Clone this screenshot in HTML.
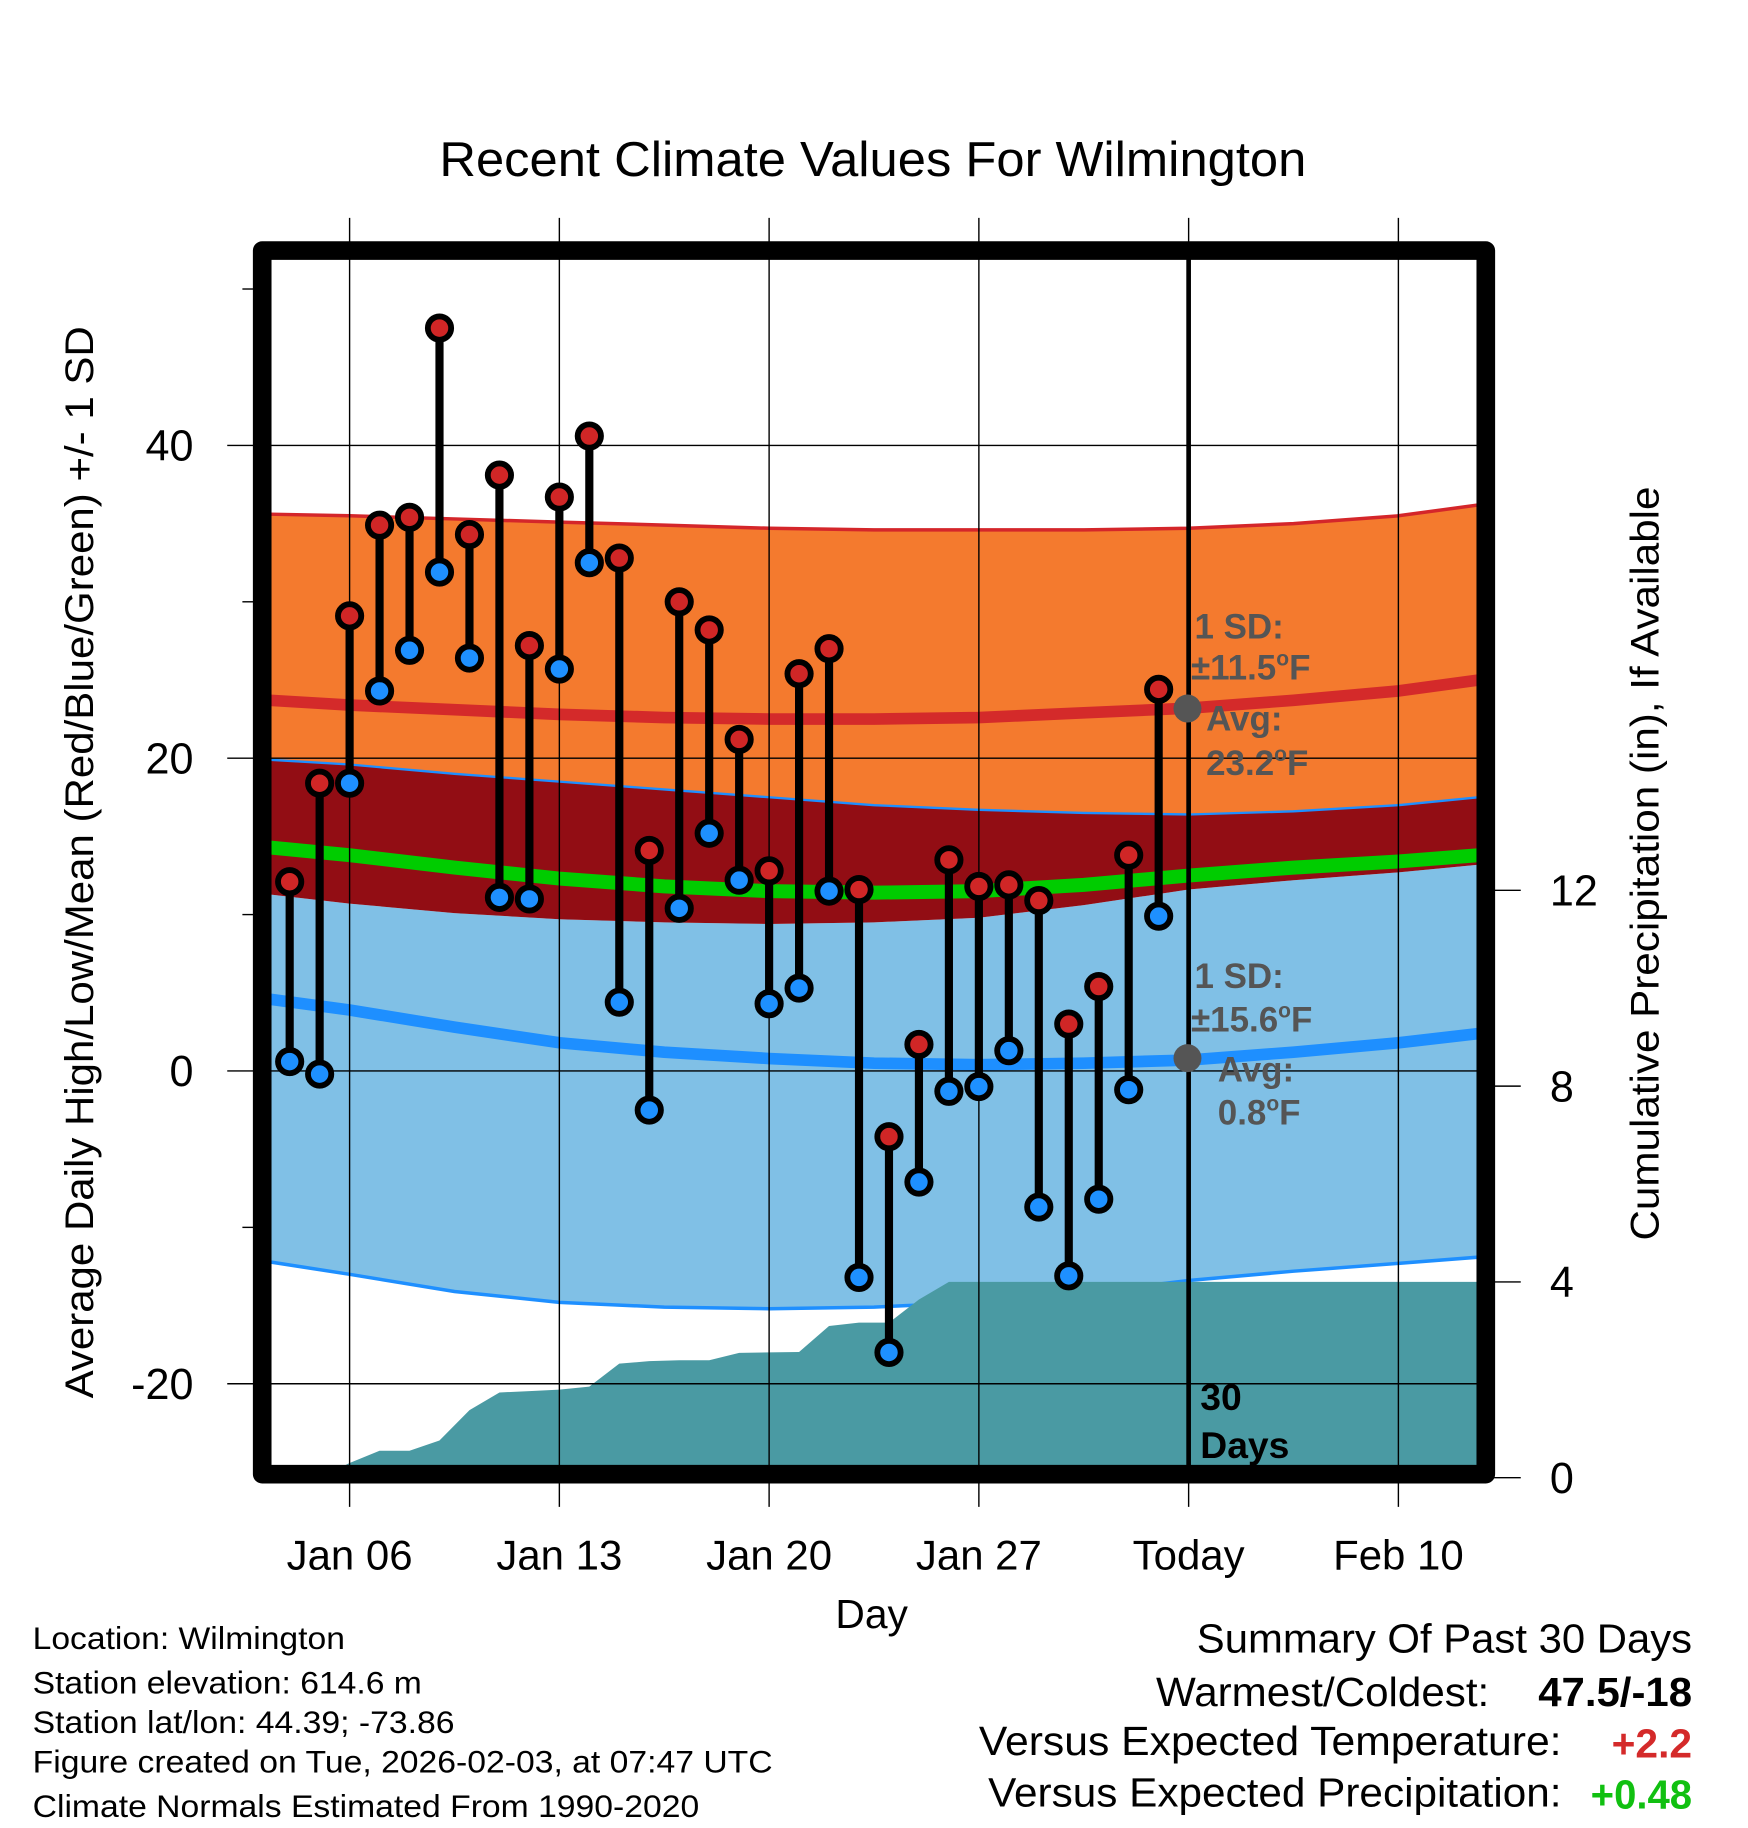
<!DOCTYPE html>
<html><head><meta charset="utf-8"><style>
html,body{margin:0;padding:0;background:#fff}
svg{display:block;font-family:"Liberation Sans",Arial,sans-serif}
</style></head><body>
<svg id="c" width="1748" height="1828" viewBox="0 0 1500 1568.6" preserveAspectRatio="none" xmlns="http://www.w3.org/2000/svg">
<defs><clipPath id="pc"><rect x="232" y="222" width="1036" height="1038"/></clipPath></defs>
<g id="fills" clip-path="url(#pc)"></g>
<g id="grid"></g>
<g id="marks"></g>
<rect x="225" y="215" width="1050" height="1050" fill="none" stroke="#000" stroke-width="16" stroke-linejoin="round"/>
<g id="labels"></g>
<text x="749" y="151" font-size="42" text-anchor="middle" textLength="744" lengthAdjust="spacingAndGlyphs">Recent Climate Values For Wilmington</text>
<text transform="translate(80,740) rotate(-90)" font-size="34" text-anchor="middle" textLength="920" lengthAdjust="spacingAndGlyphs">Average Daily High/Low/Mean (Red/Blue/Green) +/- 1 SD</text>
<text transform="translate(1423,741) rotate(-90)" font-size="34" text-anchor="middle" textLength="647" lengthAdjust="spacingAndGlyphs">Cumulative Precipitation (in), If Available</text>
<text x="748" y="1397" font-size="35" text-anchor="middle">Day</text>
<g font-size="30" font-weight="bold" fill="#555">
<text x="1025" y="548">1 SD:</text><text x="1022" y="583">±11.5<tspan dy="-12" font-size="18">o</tspan><tspan dy="12">F</tspan></text>
<text x="1035" y="627">Avg:</text><text x="1035" y="665">23.2<tspan dy="-12" font-size="18">o</tspan><tspan dy="12">F</tspan></text>
</g>
<g font-size="30" font-weight="bold" fill="#555">
<text x="1025" y="848">1 SD:</text><text x="1022" y="885">±15.6<tspan dy="-12" font-size="18">o</tspan><tspan dy="12">F</tspan></text>
<text x="1045" y="928">Avg:</text><text x="1045" y="965">0.8<tspan dy="-12" font-size="18">o</tspan><tspan dy="12">F</tspan></text>
</g>
<circle cx="1019" cy="608" r="12" fill="#555"/>
<circle cx="1019" cy="908" r="12" fill="#555"/>
<g font-size="32" font-weight="bold"><text x="1030" y="1210">30</text><text x="1030" y="1251">Days</text></g>
<g font-size="27">
<text x="28" y="1415" textLength="268" lengthAdjust="spacingAndGlyphs">Location: Wilmington</text>
<text x="28" y="1453" textLength="334" lengthAdjust="spacingAndGlyphs">Station elevation: 614.6 m</text>
<text x="28" y="1487" textLength="362" lengthAdjust="spacingAndGlyphs">Station lat/lon: 44.39; -73.86</text>
<text x="28" y="1521" textLength="635" lengthAdjust="spacingAndGlyphs">Figure created on Tue, 2026-02-03, at 07:47 UTC</text>
<text x="28" y="1559" textLength="572" lengthAdjust="spacingAndGlyphs">Climate Normals Estimated From 1990-2020</text>
</g>
<g font-size="35">
<text x="1027" y="1418" textLength="425" lengthAdjust="spacingAndGlyphs">Summary Of Past 30 Days</text>
<text x="992" y="1464" textLength="286" lengthAdjust="spacingAndGlyphs">Warmest/Coldest:</text><text x="1320" y="1464" font-weight="bold" textLength="132" lengthAdjust="spacingAndGlyphs">47.5/-18</text>
<text x="840" y="1506" textLength="500" lengthAdjust="spacingAndGlyphs">Versus Expected Temperature:</text><text x="1383" y="1508" font-weight="bold" fill="#d42a2a" textLength="69" lengthAdjust="spacingAndGlyphs">+2.2</text>
<text x="848" y="1550" textLength="492" lengthAdjust="spacingAndGlyphs">Versus Expected Precipitation:</text><text x="1365" y="1552" font-weight="bold" fill="#11c011" textLength="87" lengthAdjust="spacingAndGlyphs">+0.48</text>
</g>
</svg>
<script>
// day index = day of January (Feb n = 31+n)
const obsDays = [4,5,6,7,8,9,10,11,12,13,14,15,16,17,18,19,20,21,22,23,24,25,26,27,28,29,30,31,32,33];
const highs = [12.1,18.4,29.1,34.9,35.4,47.5,34.3,38.1,27.2,36.7,40.6,32.8,14.1,30.0,28.2,21.2,12.8,25.4,27.0,11.6,-4.2,1.7,13.5,11.8,11.9,10.9,3.0,5.4,13.8,24.4];
const lows = [0.6,-0.2,18.4,24.3,26.9,31.9,26.4,11.1,11.0,25.7,32.5,4.4,-2.5,10.4,15.2,12.2,4.3,5.3,11.5,-13.2,-18.0,-7.1,-1.3,-1.0,1.3,-8.7,-13.1,-8.2,-1.2,9.9];
const precip = [0,0,0.3,0.55,0.55,0.76,1.38,1.74,1.77,1.8,1.86,2.33,2.38,2.4,2.4,2.55,2.56,2.57,3.1,3.17,3.17,3.64,4.0,4.0,4.0,4.0,4.0,4.0,4.0,4.0];
const normDays = [3.3,6,9.5,13,16.5,20,23.5,27,30.5,34,37.5,41,43.7];
const normHigh = [23.7,23.4,23.1,22.8,22.6,22.5,22.5,22.6,22.9,23.2,23.7,24.3,25.0];
const highUpper = [35.6,35.5,35.3,35.1,34.9,34.7,34.6,34.6,34.6,34.7,35.0,35.5,36.2];
const highLower = [19.9,19.6,19.0,18.5,18.0,17.5,17.0,16.7,16.5,16.4,16.6,17.0,17.5];
const normLow = [4.6,3.9,2.8,1.8,1.2,0.8,0.5,0.4,0.5,0.7,1.2,1.8,2.4];
const lowUpper = [11.3,10.7,10.1,9.7,9.5,9.4,9.5,9.8,10.6,11.6,12.2,12.7,13.2];
const lowLower = [-12.2,-13.0,-14.1,-14.8,-15.1,-15.2,-15.1,-14.8,-14.2,-13.4,-12.8,-12.3,-11.9];
const normMean = [14.3,13.8,13.0,12.3,11.8,11.5,11.4,11.5,11.9,12.5,13.0,13.4,13.8];
const yTicks = [-20,0,20,40];
const yMinor = [-10,10,30,50];
const pTicks = [0,4,8,12];
const xTickDays = [6,13,20,27,34,41];
const xTickLabels = ["Jan 06","Jan 13","Jan 20","Jan 27","Today","Feb 10"];

const NS="http://www.w3.org/2000/svg";
const X=d=>300+(d-6)*25.714;
const Y=v=>919-v*13.42;
const YP=p=>1268-p*42;
function mk(tag,attrs,parent){const e=document.createElementNS(NS,tag);for(const k in attrs)e.setAttribute(k,attrs[k]);parent.appendChild(e);return e;}
const fills=document.getElementById('fills'),grid=document.getElementById('grid'),marks=document.getElementById('marks'),labels=document.getElementById('labels');
function line(vals){return normDays.map((d,i)=>X(d).toFixed(1)+','+Y(vals[i]).toFixed(1));}
function band(top,bot){return line(top).concat(line(bot).reverse()).join(' ');}
let e;
e=mk('polygon',{points:band(highUpper,highLower),fill:'#f47a2e'},fills);


e=mk('polygon',{points:band(lowUpper,lowLower),fill:'#80c0e6'},fills);


e=mk('polygon',{points:band(highLower,lowUpper),fill:'#920d14'},fills);


e=mk('polyline',{points:line(highUpper).join(' '),fill:'none',stroke:'#d4262a','stroke-width':3},fills);


e=mk('polyline',{points:line(highLower).join(' '),fill:'none',stroke:'#1e8fff','stroke-width':2},fills);


e=mk('polyline',{points:line(lowLower).join(' '),fill:'none',stroke:'#1e8fff','stroke-width':3},fills);


e=mk('polyline',{points:line(normMean).join(' '),fill:'none',stroke:'#00cc00','stroke-width':12},fills);


e=mk('polyline',{points:line(normHigh).join(' '),fill:'none',stroke:'#d42a2a','stroke-width':10},fills);


e=mk('polyline',{points:line(normLow).join(' '),fill:'none',stroke:'#1e8fff','stroke-width':10},fills);


// precip area
let pts=[X(2)+','+YP(0)];
obsDays.forEach((d,i)=>pts.push(X(d).toFixed(1)+','+YP(precip[i]).toFixed(1)));
pts.push('1270,'+YP(precip[precip.length-1]));pts.push('1270,'+YP(0));
e=mk('polygon',{points:pts.join(' '),fill:'#4a9aa3'},fills);


// grid
xTickDays.forEach((d,i)=>{
  const g=mk('line',{x1:X(d),x2:X(d),y1:187,y2:1293,stroke:'#000','stroke-width':1.2},grid);
  
  
  const t=mk('text',{x:X(d),y:1347,'font-size':36,'text-anchor':'middle'},labels);
  t.textContent=xTickLabels[i];
  
  
});
yTicks.forEach(v=>{
  const g=mk('line',{x1:195,x2:1268,y1:Y(v),y2:Y(v),stroke:'#000','stroke-width':1.2},grid);
  
  
  const t=mk('text',{x:166,y:Y(v)+13,'font-size':37,'text-anchor':'end'},labels);
  t.textContent=String(v);
  
  
});
yMinor.forEach(v=>{
  const g=mk('line',{x1:208,x2:220,y1:Y(v),y2:Y(v),stroke:'#000','stroke-width':1.2},grid);
  
  
});
pTicks.forEach(p=>{
  const g=mk('line',{x1:1280,x2:1305,y1:YP(p),y2:YP(p),stroke:'#000','stroke-width':1.2},grid);
  
  
  const t=mk('text',{x:1330,y:YP(p)+13,'font-size':37},labels);
  t.textContent=String(p);
  
  
});
e=mk('line',{x1:X(34),x2:X(34),y1:222,y2:1262,stroke:'#000','stroke-width':4},grid);


// markers
obsDays.forEach((d,i)=>{
  const x=X(d);
  const s=mk('line',{x1:x,x2:x,y1:Y(highs[i]),y2:Y(lows[i]),stroke:'#000','stroke-width':7},marks);
  
  
  const h=mk('circle',{cx:x,cy:Y(highs[i]),r:10,fill:'#d02626',stroke:'#000','stroke-width':5},marks);
  
  
  const l=mk('circle',{cx:x,cy:Y(lows[i]),r:10,fill:'#1e90ff',stroke:'#000','stroke-width':5},marks);
  
  
});
</script>
</body></html>
